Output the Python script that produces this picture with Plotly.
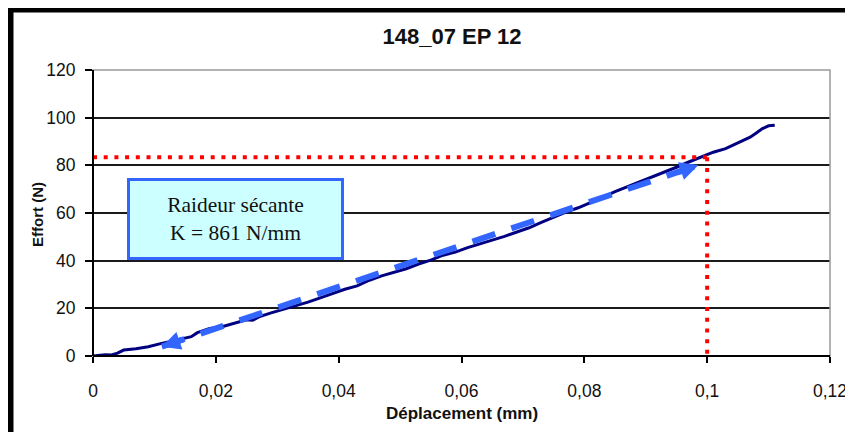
import plotly.graph_objects as go

# ---- data ----
deplacement_mm = [0.000, 0.002, 0.003, 0.004, 0.005, 0.007, 0.009, 0.010, 0.011, 0.013,
                  0.015, 0.016, 0.017, 0.019, 0.021, 0.023, 0.025, 0.026, 0.027, 0.029,
                  0.031, 0.033, 0.035, 0.037, 0.039, 0.041, 0.043, 0.045, 0.047, 0.049,
                  0.051, 0.053, 0.055, 0.057, 0.059, 0.061, 0.063, 0.065, 0.067, 0.069,
                  0.071, 0.073, 0.075, 0.077, 0.079, 0.081, 0.083, 0.085, 0.087, 0.089,
                  0.091, 0.093, 0.095, 0.097, 0.099, 0.101, 0.103, 0.105, 0.107, 0.108,
                  0.109, 0.110, 0.111]
effort_N = [0.0, 0.5, 0.4, 1.2, 2.5, 3.0, 3.9, 4.4, 5.2, 6.3,
            7.6, 8.1, 9.8, 11.6, 12.3, 13.6, 15.2, 15.0, 16.4, 18.1,
            19.6, 21.0, 22.6, 24.4, 26.2, 28.0, 29.4, 31.8, 33.6, 35.0,
            36.6, 38.6, 40.2, 42.3, 43.6, 45.5, 46.9, 48.6, 50.2, 51.9,
            53.8, 56.1, 58.3, 60.4, 62.2, 64.3, 66.6, 69.0, 71.0, 73.1,
            75.0, 77.0, 79.2, 81.4, 83.3, 85.5, 87.0, 89.4, 91.8, 93.6,
            95.4, 96.6, 96.8]

x_ticks = [0, 0.02, 0.04, 0.06, 0.08, 0.1, 0.12]
y_ticks = [0, 20, 40, 60, 80, 100, 120]

# secant reference point and arrow ends
secant_x = 0.1
secant_y = 83.4
arrow_start = (0.0112, 3.9)
arrow_end = (0.0986, 80.1)

title_text = "148_07 EP 12"
x_title = "Déplacement (mm)"
y_title = "Effort (N)"
box_text = "Raideur sécante<br>K = 861 N/mm"
box_pos = (0.0232, 57.5)

# ---- layout geometry (page pixels; the page body adds an 8px offset) ----
W, H = 853, 432
OFF = 8
P_LEFT, P_RIGHT, P_TOP, P_BOTTOM = 93, 830, 70, 356
ML = P_LEFT - OFF
MT = P_TOP - OFF
MR = W - (P_RIGHT - OFF)
MB = H - (P_BOTTOM - OFF)
PW, PH = P_RIGHT - P_LEFT, P_BOTTOM - P_TOP
XR = [0, 0.12]
YR = [0, 120]


def px_x(px):
    return (px - P_LEFT) / PW


def px_y(py):
    return (P_BOTTOM - py) / PH


BLUE = "#3366FF"
NAVY = "#000080"
FONT = "Liberation Sans, Arial, sans-serif"

fig = go.Figure()
fig.add_trace(go.Scatter(x=deplacement_mm, y=effort_N, mode="lines",
                         line=dict(color=NAVY, width=3), hoverinfo="skip",
                         showlegend=False))

shapes = []
# red dotted secant guides
shapes.append(dict(type="line", xref="x", yref="y", x0=0, y0=secant_y, x1=secant_x, y1=secant_y,
                   line=dict(color="#FF0000", width=4, dash="4px,6.7px"), layer="above"))
shapes.append(dict(type="line", xref="x", yref="y", x0=secant_x, y0=secant_y, x1=secant_x, y1=0,
                   line=dict(color="#FF0000", width=4, dash="4px,6.7px"), layer="above"))
# dashed blue double arrow body
shapes.append(dict(type="line", xref="x", yref="y", x0=arrow_start[0], y0=arrow_start[1],
                   x1=arrow_end[0], y1=arrow_end[1],
                   line=dict(color=BLUE, width=6, dash="24px,17px"), layer="above"))
# plot border (grey top/right)
shapes.append(dict(type="rect", xref="paper", yref="paper", x0=0, y0=0, x1=1, y1=1,
                   line=dict(color="#9A9A9A", width=1.5), layer="above"))
# left & bottom axis lines in black
shapes.append(dict(type="line", xref="paper", yref="paper", x0=0, y0=0, x1=0, y1=1,
                   line=dict(color="black", width=2), layer="above"))
shapes.append(dict(type="line", xref="paper", yref="paper", x0=0, y0=0, x1=1, y1=0,
                   line=dict(color="black", width=2), layer="above"))
# black frame of the picture (top and left)
shapes.append(dict(type="rect", xref="paper", yref="paper", x0=px_x(OFF), x1=px_x(W + OFF),
                   y0=px_y(12.5), y1=px_y(OFF), fillcolor="black", line=dict(width=0), layer="above"))
shapes.append(dict(type="rect", xref="paper", yref="paper", x0=px_x(OFF), x1=px_x(13.5),
                   y0=px_y(H + OFF), y1=px_y(OFF), fillcolor="black", line=dict(width=0), layer="above"))

# arrow heads
sx = PW / (XR[1] - XR[0])
sy = PH / (YR[1] - YR[0])
dxp = (arrow_end[0] - arrow_start[0]) * sx
dyp = -(arrow_end[1] - arrow_start[1]) * sy
norm = (dxp ** 2 + dyp ** 2) ** 0.5
ux, uy = dxp / norm, dyp / norm
L = 24
annotations = [
    dict(x=arrow_end[0], y=arrow_end[1], xref="x", yref="y", text="", showarrow=True,
         ax=-ux * L, ay=-uy * L, arrowhead=2, arrowsize=0.62, arrowwidth=6,
         arrowcolor=BLUE, standoff=0),
    dict(x=arrow_start[0], y=arrow_start[1], xref="x", yref="y", text="", showarrow=True,
         ax=ux * L, ay=uy * L, arrowhead=2, arrowsize=0.62, arrowwidth=6,
         arrowcolor=BLUE, standoff=0),
    dict(x=box_pos[0], y=box_pos[1], xref="x", yref="y", text=box_text, showarrow=False,
         font=dict(family="Liberation Serif, Times New Roman, serif", size=21.5, color="#111111"),
         bgcolor="#CCFFFF", bordercolor=BLUE, borderwidth=3, borderpad=3,
         width=205, height=70, align="center", valign="middle"),
    dict(x=px_x(37), y=px_y(215), xref="paper", yref="paper", text="<b>" + y_title + "</b>",
         xanchor="center", yanchor="middle",
         showarrow=False, textangle=-90, font=dict(family=FONT, size=15, color="#111111")),
    dict(x=px_x(462), y=px_y(413), xref="paper", yref="paper", text="<b>" + x_title + "</b>",
         xanchor="center", yanchor="middle",
         showarrow=False, font=dict(family=FONT, size=17, color="#111111")),
]

fig.update_layout(
    width=W, height=H,
    margin=dict(l=ML, r=MR, t=MT, b=MB, pad=0),
    paper_bgcolor="white", plot_bgcolor="white",
    separators=", ",
    title=dict(text="<b>" + title_text + "</b>", x=(452 - OFF) / W, xanchor="center",
               y=1 - (36 - OFF) / H, yanchor="middle", yref="container",
               font=dict(family=FONT, size=22, color="#111111")),
    shapes=shapes, annotations=annotations,
    font=dict(family=FONT, size=17.5, color="#111111"),
)
fig.update_xaxes(range=XR, tickvals=x_ticks, showgrid=False, zeroline=False,
                 showline=False, ticks="outside", ticklen=6, tickwidth=2, tickcolor="black",
                 ticklabelstandoff=13, tickfont=dict(size=17.5))
fig.update_yaxes(range=YR, tickvals=y_ticks, showgrid=True, gridcolor="#1a1a1a", gridwidth=1.6,
                 zeroline=False, showline=False, ticks="outside", ticklen=7, tickwidth=2,
                 tickcolor="black", ticklabelstandoff=6, tickfont=dict(size=17.5))

fig.write_html("out.html")
